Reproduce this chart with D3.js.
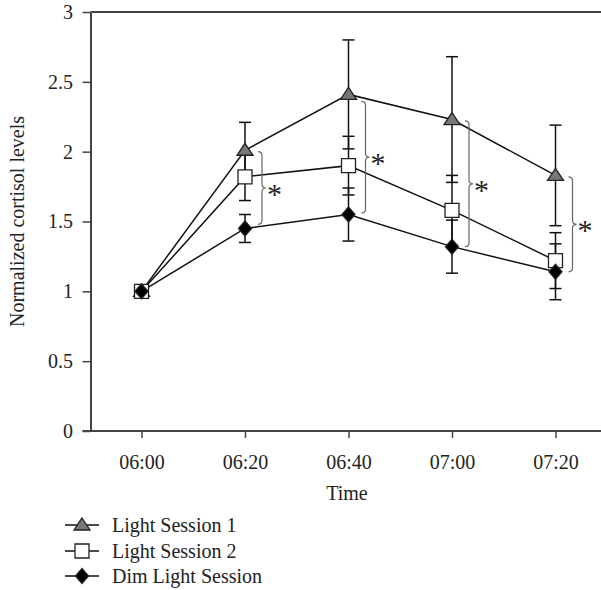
<!DOCTYPE html>
<html>
<head>
<meta charset="utf-8">
<script src="https://cdn.jsdelivr.net/npm/d3@7"></script>
<style>
  body { margin: 0; background: #fff; }
  text { font-family: "Liberation Serif", "DejaVu Serif", serif; fill: #222; }
</style>
</head>
<body>
<div id="chart"></div>
<script>
// categories and series values
var times = ["06:00", "06:20", "06:40", "07:00", "07:20"];
var yTicks = [0, 0.5, 1, 1.5, 2, 2.5, 3];

var light1 = [1.0, 2.01, 2.41, 2.23, 1.83];
var light1Err = [0, 0.20, 0.39, 0.45, 0.36];
var light2 = [1.0, 1.82, 1.90, 1.58, 1.22];
var light2Err = [0, 0.17, 0.21, 0.25, 0.20];
var dimLight = [1.0, 1.45, 1.55, 1.32, 1.14];
var dimErr = [0, 0.10, 0.19, 0.19, 0.20];

// significance braces (time index, top value, bottom value)
var braceIdx = [1, 2, 3, 4];
var braceTop = [2.0, 2.36, 2.22, 1.82];
var braceBot = [1.48, 1.56, 1.32, 1.14];

var seriesNames = ["Light Session 1", "Light Session 2", "Dim Light Session"];

var width = 601, height = 590;
var plotLeft = 90.5, plotTop = 12, plotBottom = 431;

var svg = d3.select("#chart").append("svg")
    .attr("width", width)
    .attr("height", height);

// Scales
var x = d3.scalePoint().domain(times).range([141.5, 555.5]);
var y = d3.scaleLinear().domain([0, 3]).range([plotBottom, plotTop]);

// top border
svg.append("line")
    .attr("x1", plotLeft).attr("x2", width)
    .attr("y1", plotTop).attr("y2", plotTop)
    .attr("stroke", "#444").attr("stroke-width", 2);

// Axes
var yAxis = svg.append("g")
    .attr("transform", "translate(" + plotLeft + ",0)")
    .call(d3.axisLeft(y).tickValues(yTicks).tickSize(8).tickSizeOuter(0)
        .tickFormat(function(d) { return String(d); }));
yAxis.select(".domain").attr("stroke", "#444").attr("stroke-width", 2);
yAxis.selectAll(".tick line").attr("stroke", "#444").attr("stroke-width", 1.5);
yAxis.selectAll(".tick text").attr("x", -17.5).style("font-size", "20px")
    .style("font-family", "Liberation Serif").attr("fill", "#222");

var xAxis = svg.append("g")
    .attr("transform", "translate(0," + plotBottom + ")")
    .call(d3.axisBottom(x).tickSize(7).tickSizeOuter(0));
xAxis.select(".domain").remove();
xAxis.append("line")
    .attr("x1", plotLeft - 8).attr("x2", width)
    .attr("stroke", "#444").attr("stroke-width", 2);
xAxis.selectAll(".tick line").attr("stroke", "#444").attr("stroke-width", 1.5);
xAxis.selectAll(".tick text").attr("y", 24).style("font-size", "20px")
    .style("font-family", "Liberation Serif").attr("fill", "#222");

// Labels
svg.append("text")
    .attr("text-anchor", "middle")
    .style("font-size", "20px")
    .attr("transform", "translate(24," + ((plotTop + plotBottom) / 2) + ")rotate(-90)")
    .text("Normalized cortisol levels");

svg.append("text")
    .attr("text-anchor", "middle")
    .style("font-size", "20px")
    .attr("x", 347).attr("y", 500)
    .text("Time");

var series = [
  {vals: light1, err: light1Err, shape: "tri"},
  {vals: light2, err: light2Err, shape: "sq"},
  {vals: dimLight, err: dimErr, shape: "dia"}
];

function symbolPath(shape) {
  if (shape == "tri") return "M0,-7 L8,5 L-8,5 Z";
  if (shape == "sq") return "M-7,-7 L7,-7 L7,7 L-7,7 Z";
  return "M0,-7.5 L6.5,0 L0,7.5 L-6.5,0 Z";
}
function symbolFill(shape) {
  if (shape == "tri") return "#777";
  if (shape == "sq") return "#fff";
  return "#000";
}

var line = d3.line()
    .x(function(d, i) { return x(times[i]); })
    .y(function(d) { return y(d); });

// Data lines
series.forEach(function(s) {
  svg.append("path")
      .datum(s.vals)
      .attr("d", line)
      .attr("fill", "none")
      .attr("stroke", "#111")
      .attr("stroke-width", 1.5);
});

// Error bars
series.forEach(function(s) {
  var g = svg.append("g");
  s.vals.forEach(function(v, i) {
    if (!s.err[i]) return;
    var cx = x(times[i]);
    var hi = y(v + s.err[i]), lo = y(v - s.err[i]);
    g.append("line").attr("x1", cx).attr("x2", cx).attr("y1", hi).attr("y2", lo)
        .attr("stroke", "#111").attr("stroke-width", 1.5);
    [hi, lo].forEach(function(yy) {
      g.append("line").attr("x1", cx - 6).attr("x2", cx + 6).attr("y1", yy).attr("y2", yy)
          .attr("stroke", "#111").attr("stroke-width", 1.5);
    });
  });
});

// Data points
series.forEach(function(s) {
  svg.append("g")
      .selectAll("path")
      .data(s.vals)
      .enter()
      .append("path")
      .attr("transform", function(d, i) { return "translate(" + x(times[i]) + "," + y(d) + ")"; })
      .attr("d", symbolPath(s.shape))
      .attr("fill", symbolFill(s.shape))
      .attr("stroke", "#222")
      .attr("stroke-width", 1.3);
});

// Significance braces
braceIdx.forEach(function(idx, k) {
  var x0 = x(times[idx]) + 13, w = 4;
  var t = y(braceTop[k]), b = y(braceBot[k]), m = (t + b) / 2;
  var p = "M" + x0 + "," + t +
      " Q" + (x0 + w) + "," + t + " " + (x0 + w) + "," + (t + w) +
      " L" + (x0 + w) + "," + (m - w) +
      " Q" + (x0 + w) + "," + m + " " + (x0 + 2 * w) + "," + m +
      " Q" + (x0 + w) + "," + m + " " + (x0 + w) + "," + (m + w) +
      " L" + (x0 + w) + "," + (b - w) +
      " Q" + (x0 + w) + "," + b + " " + x0 + "," + b;
  svg.append("path").attr("d", p)
      .attr("fill", "none").attr("stroke", "#666").attr("stroke-width", 1.2);
  svg.append("text")
      .attr("x", x0 + 2 * w + 1).attr("y", m + 16)
      .style("font-size", "30px")
      .attr("fill", "#666")
      .text("*");
});

// Legend
var legend = svg.append("g");
var legendY = [525, 551, 576];
seriesNames.forEach(function(name, i) {
  var row = legend.append("g").attr("transform", "translate(0," + legendY[i] + ")");
  row.append("line").attr("x1", 65).attr("x2", 99)
      .attr("stroke", "#111").attr("stroke-width", 1.5);
  row.append("path").attr("transform", "translate(82,0)")
      .attr("d", symbolPath(series[i].shape))
      .attr("fill", symbolFill(series[i].shape))
      .attr("stroke", "#222").attr("stroke-width", 1.3);
  row.append("text").attr("x", 112).attr("y", 6.5)
      .style("font-size", "20px")
      .text(name);
});
</script>
</body>
</html>
